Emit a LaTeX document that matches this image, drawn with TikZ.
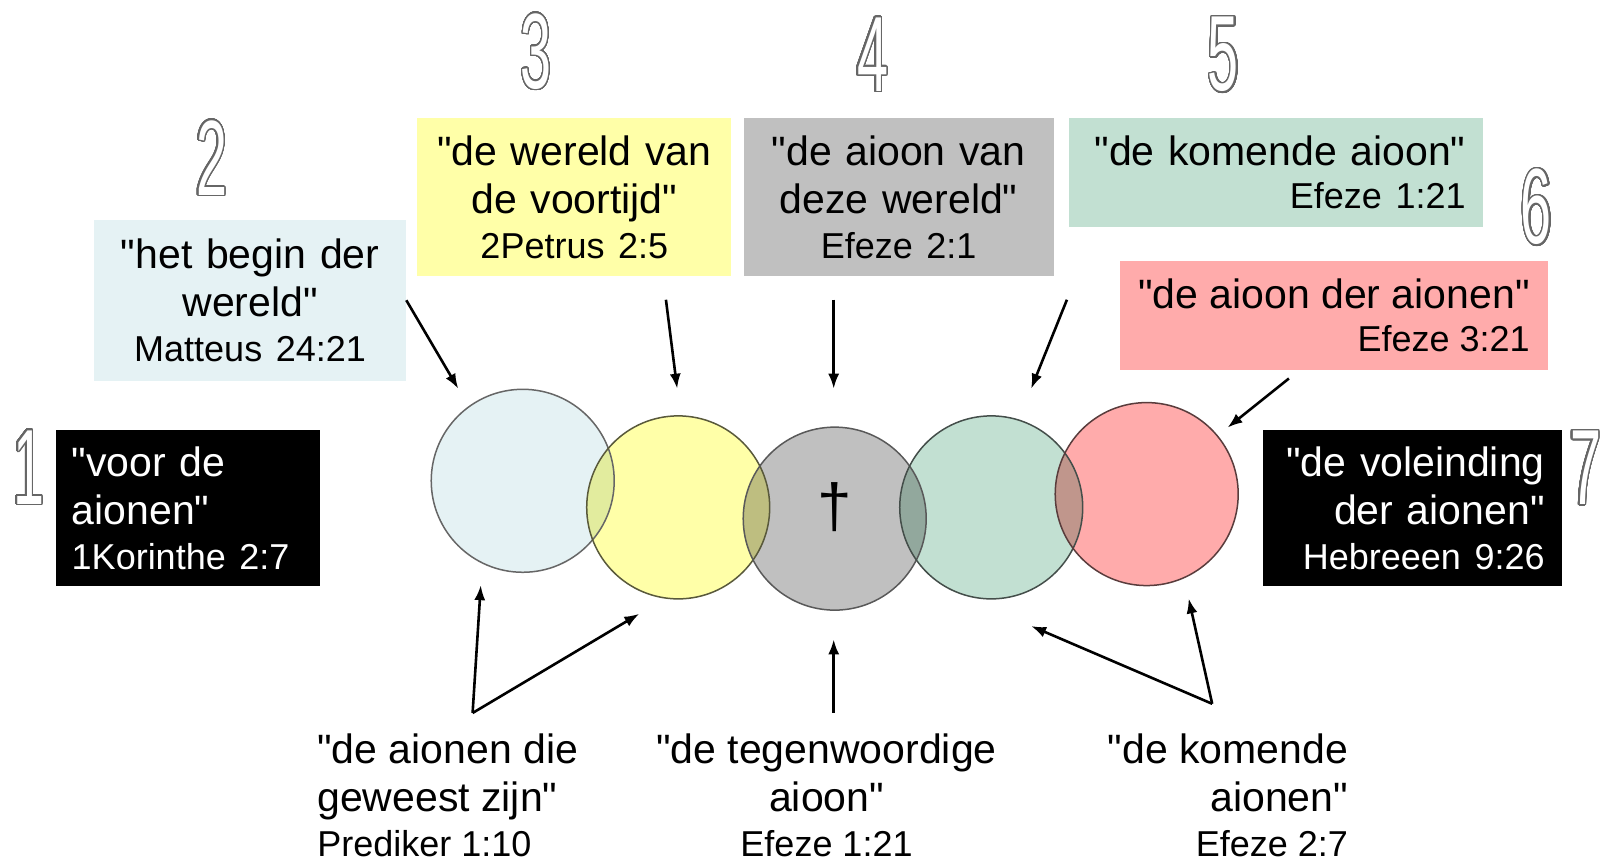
\documentclass[tikz,border=0pt]{standalone}
\usepackage{fontspec}
\setmainfont{Liberation Sans}[Ligatures=TeXOff]
\newfontfamily\numfont[FakeStretch=0.52]{Liberation Sans}
\usepackage[copies]{contour}
\contourlength{1.4pt}
\contournumber{48}
\usetikzlibrary{arrows.meta}
\definecolor{cblue}{HTML}{E5F2F4}
\definecolor{cyel}{HTML}{FFFFA8}
\definecolor{cgray}{HTML}{C0C0C0}
\definecolor{cgreen}{HTML}{C2E0D2}
\definecolor{cpink}{HTML}{FFABAB}
\definecolor{ov12}{HTML}{E2EC9E}
\definecolor{ov23}{HTML}{BEBE80}
\definecolor{ov34}{HTML}{92A89D}
\definecolor{ov45}{HTML}{C0968C}
\newcommand{\qsize}{\fontsize{41}{48}\selectfont}
\newcommand{\rsize}{\fontsize{36}{44}\selectfont}
\newcommand{\outnum}[1]{{\color{white}\contour{black!60}{#1}}}
\tikzset{
  qbox/.style={rectangle, inner ysep=0pt, font=\qsize},
  circ/.style={circle, minimum size=183pt, inner sep=0pt},
  circline/.style={line width=1.5pt},
  arr/.style={line width=2.6pt, -{Latex[length=15pt,width=11pt]}},
  num/.style={inner sep=0pt, font=\numfont\fontsize{107}{107}\selectfont},
  btext/.style={inner sep=0pt, font=\qsize},
}
\begin{document}
\begin{tikzpicture}[x=1.023pt,y=-1.023pt]
\useasboundingbox[fill=white] (0,0) rectangle (1570,842.6);

% outlined numbers
\node[num] (n1) at (28,457.5) {\outnum{1}};
\node[num] (n2) at (207,155) {\outnum{2}};
\node[num] (n3) at (524,51) {\outnum{3}};
\node[num] (n4) at (853,54) {\outnum{4}};
\node[num] (n5) at (1196,54) {\outnum{5}};
\node[num] (n6) at (1502,203) {\outnum{6}};
\node[num] (n7) at (1550,458) {\outnum{7}};

% boxes
\node[qbox, fill=black, text=white, minimum width=264pt, minimum height=156.5pt,
      inner xsep=15.3pt, text width=233pt, align=left] (b1) at (184,496.5)
  {"voor de\\aionen"\\[-3pt]{\rsize 1Korinthe 2:7}};
\node[qbox, fill=cblue, minimum width=312pt, minimum height=160.6pt,
      inner xsep=10pt, text width=292pt, align=center] (b2) at (244.5,293.5)
  {"het begin der\\wereld"\\[-3pt]{\rsize Matteus 24:21}};
\node[qbox, fill=cyel, minimum width=314pt, minimum height=158.6pt,
      inner xsep=10pt, text width=294pt, align=center] (b3) at (561.5,192.5)
  {"de wereld van\\de voortijd"\\[-3pt]{\rsize 2Petrus 2:5}};
\node[qbox, fill=cgray, minimum width=310pt, minimum height=158.6pt,
      inner xsep=10pt, text width=290pt, align=center] (b4) at (878.5,192.5)
  {"de aioon van\\deze wereld"\\[-3pt]{\rsize Efeze 2:1}};
\node[qbox, fill=cgreen, minimum width=414pt, minimum height=109.5pt,
      inner xsep=17.4pt, text width=379pt, align=right] (b5) at (1247.5,168.5)
  {"de komende aioon"\\[-5pt]{\rsize Efeze 1:21}};
\node[qbox, fill=cpink, minimum width=427.6pt, minimum height=109.5pt,
      inner xsep=12pt, align=right] (b6) at (1304,308.5)
  {"de aioon der aionen"\\[-5pt]{\rsize Efeze 3:21}};
\node[qbox, fill=black, text=white, minimum width=298.7pt, minimum height=156.5pt,
      inner xsep=17.4pt, text width=264pt, align=right] (b7) at (1381,496.5)
  {"de voleinding\\der aionen"\\[-3pt]{\rsize Hebreeen 9:26}};

% bottom texts
\node[btext, anchor=west, align=left] (t1) at (310,777)
  {"de aionen die\\geweest zijn"\\[-3pt]{\rsize Prediker 1:10}};
\node[btext, align=center] (t2) at (808,777)
  {"de tegenwoordige\\aioon"\\[-3pt]{\rsize Efeze 1:21}};
\node[btext, anchor=east, align=right] (t3) at (1318,777)
  {"de komende\\aionen"\\[-3pt]{\rsize Efeze 2:7}};

% circles
\node[circ, fill=cblue] (c1) at (511,470) {};
\node[circ, fill=cyel] (c2) at (663,496) {};
\node[circ, fill=cgray] (c3) at (816,507) {};
\node[circ, fill=cgreen] (c4) at (969,496) {};
\node[circ, fill=cpink] (c5) at (1121,483) {};
\begin{scope}\clip (c1.center) circle[radius=91.5pt];\fill[ov12] (c2.center) circle[radius=91.5pt];\end{scope}
\begin{scope}\clip (c2.center) circle[radius=91.5pt];\fill[ov23] (c3.center) circle[radius=91.5pt];\end{scope}
\begin{scope}\clip (c3.center) circle[radius=91.5pt];\fill[ov34] (c4.center) circle[radius=91.5pt];\end{scope}
\begin{scope}\clip (c4.center) circle[radius=91.5pt];\fill[ov45] (c5.center) circle[radius=91.5pt];\end{scope}
\draw[circline, draw=black!60] (c1.center) circle[radius=91.5pt];
\draw[circline, draw=cyel!35!black] (c2.center) circle[radius=91.5pt];
\draw[circline, draw=black!65] (c3.center) circle[radius=91.5pt];
\draw[circline, draw=cgreen!35!black] (c4.center) circle[radius=91.5pt];
\draw[circline, draw=cpink!35!black] (c5.center) circle[radius=91.5pt];
\node[inner sep=0pt, font=\fontsize{62}{62}\selectfont] (cross) at (816,496) {†};

% arrow coordinates
\coordinate (e2) at (448,380);
\coordinate (s3) at (651,293); \coordinate (e3) at (662,380);
\coordinate (s4) at (815,293); \coordinate (e4) at (815,380);
\coordinate (s5) at (1043,293); \coordinate (e5) at (1008,380);
\coordinate (s6) at (1260,370); \coordinate (e6) at (1200,418);
\coordinate (v1) at (462,697); \coordinate (f1a) at (470,572); \coordinate (f1b) at (625,600);
\coordinate (v2) at (815,697); \coordinate (f2) at (815,625);
\coordinate (v3) at (1185,688); \coordinate (f3a) at (1162,585); \coordinate (f3b) at (1008,612);

\draw[arr] (b2.east) -- (e2);
\draw[arr] (s3) -- (e3);
\draw[arr] (s4) -- (e4);
\draw[arr] (s5) -- (e5);
\draw[arr] (s6) -- (e6);
\draw[arr] (v1) -- (f1a);
\draw[arr] (v1) -- (f1b);
\draw[arr] (v2) -- (f2);
\draw[arr] (v3) -- (f3a);
\draw[arr] (v3) -- (f3b);
\end{tikzpicture}
\end{document}
